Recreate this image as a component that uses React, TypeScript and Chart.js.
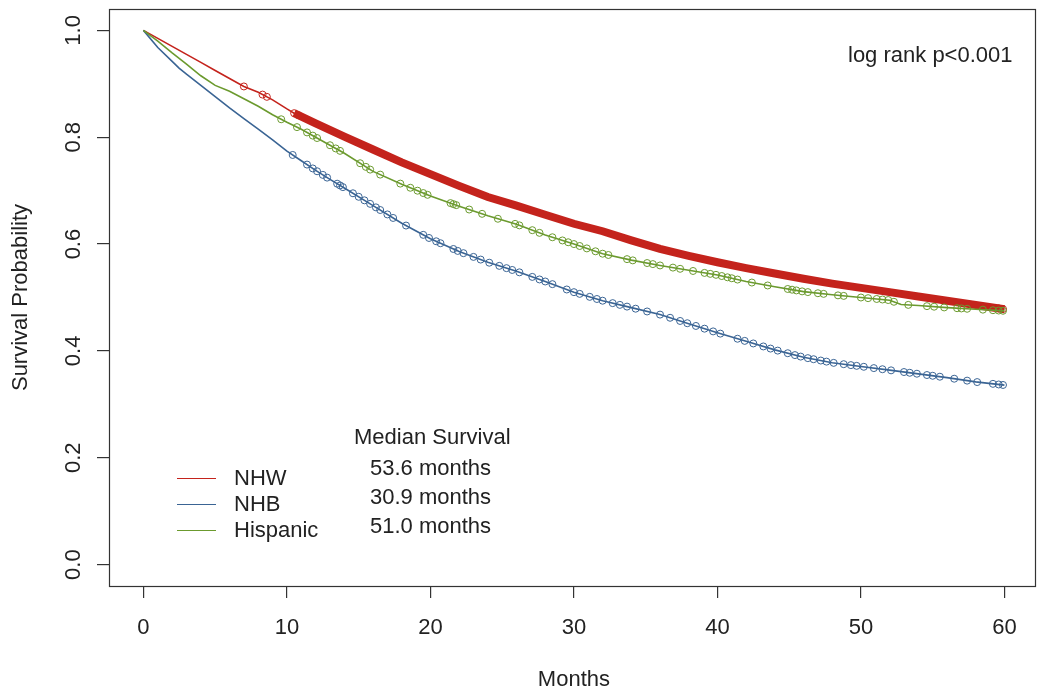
import React, { useEffect, useRef } from "react";
import { Chart, registerables } from "chart.js";
Chart.register(...registerables);

// ---------- data ----------
const xTicks = [0, 10, 20, 30, 40, 50, 60];
const yTicks = [0, 0.2, 0.4, 0.6, 0.8, 1.0];
const groups = ["NHW", "NHB", "Hispanic"];
const medians = ["53.6 months", "30.9 months", "51.0 months"];

const monthsNHW = [0, 1, 2, 3, 4, 5, 6, 7, 8, 9, 10, 10.5, 12, 14, 16, 18, 20, 22, 24, 26, 28, 30, 32, 34, 36, 38, 40, 42, 44, 46, 48, 50, 52, 54, 56, 58, 60];
const survNHW = [1.0, 0.985, 0.97, 0.955, 0.94, 0.925, 0.91, 0.895, 0.884, 0.87, 0.853, 0.845, 0.826, 0.801, 0.777, 0.753, 0.731, 0.709, 0.688, 0.672, 0.655, 0.638, 0.624, 0.607, 0.591, 0.578, 0.566, 0.555, 0.545, 0.535, 0.526, 0.518, 0.51, 0.502, 0.494, 0.486, 0.478];

const monthsNHB = [0, 1, 2, 2.5, 3, 4, 5, 6, 7, 8, 9, 10, 11, 12, 13, 14, 16, 18, 20, 22, 24, 26, 28, 30, 32, 34, 36, 38, 40, 42, 44, 46, 48, 50, 52, 54, 56, 58, 60];
const survNHB = [1.0, 0.968, 0.942, 0.929, 0.918, 0.897, 0.876, 0.855, 0.835, 0.815, 0.795, 0.774, 0.756, 0.738, 0.721, 0.705, 0.672, 0.639, 0.61, 0.586, 0.566, 0.549, 0.53, 0.51, 0.494, 0.481, 0.468, 0.451, 0.434, 0.418, 0.402, 0.388, 0.378, 0.371, 0.364, 0.357, 0.35, 0.342, 0.336];

const monthsHisp = [0, 1, 2, 3, 4, 5, 6, 7, 8, 9, 10, 11, 12, 14, 16, 18, 20, 22, 24, 26, 28, 30, 32, 34, 36, 38, 40, 42, 44, 46, 48, 50, 52, 52.8, 54, 56, 58, 60];
const survHisp = [1.0, 0.98, 0.958, 0.937, 0.915, 0.897, 0.886, 0.872, 0.858, 0.842, 0.828, 0.815, 0.8, 0.77, 0.736, 0.712, 0.69, 0.671, 0.653, 0.637, 0.617, 0.6, 0.582, 0.57, 0.56, 0.551, 0.542, 0.53, 0.52, 0.511, 0.505, 0.5, 0.495, 0.487, 0.485, 0.481, 0.478, 0.475];

// censoring times (months)
const censorNHW = [7.0, 8.3, 8.6, 10.5, 10.8, 59.6, 59.9];
const censorBandStartNHW = 10.5; // dense band of censor marks from here to 60
const censorNHB = [10.4, 11.4, 11.8, 12.1, 12.5, 12.8, 13.5, 13.7, 13.9, 14.6, 15.0, 15.4, 15.8, 16.2, 16.5, 17.0, 17.4, 18.3, 19.5, 19.9, 20.4, 20.7, 21.6, 21.9, 22.3, 23.0, 23.5, 24.1, 24.8, 25.3, 25.7, 26.2, 27.1, 27.6, 28.0, 28.5, 29.5, 30.0, 30.4, 31.1, 31.6, 32.0, 32.7, 33.2, 33.7, 34.3, 35.1, 36.0, 36.7, 37.4, 37.9, 38.5, 39.1, 39.7, 40.2, 41.4, 41.9, 42.5, 43.2, 43.7, 44.2, 44.9, 45.4, 45.8, 46.3, 46.7, 47.2, 47.6, 48.1, 48.8, 49.3, 49.7, 50.2, 50.9, 51.5, 52.1, 53.0, 53.4, 53.9, 54.6, 55.0, 55.5, 56.5, 57.4, 58.1, 59.2, 59.6, 59.9];
const censorHisp = [9.6, 10.7, 11.4, 11.8, 12.1, 13.0, 13.4, 13.7, 15.1, 15.5, 15.8, 16.5, 17.9, 18.6, 19.1, 19.5, 19.8, 21.4, 21.6, 21.8, 22.7, 23.6, 24.7, 25.9, 26.2, 27.1, 27.6, 28.5, 29.2, 29.6, 30.0, 30.4, 30.9, 31.5, 32.0, 32.4, 33.7, 34.1, 35.1, 35.5, 36.0, 36.9, 37.4, 38.3, 39.1, 39.5, 39.9, 40.3, 40.7, 41.0, 41.4, 42.4, 43.5, 44.9, 45.2, 45.5, 45.9, 46.3, 47.0, 47.4, 48.4, 48.8, 50.0, 50.5, 51.1, 51.5, 51.9, 52.3, 53.3, 54.6, 55.1, 55.8, 56.7, 57.0, 57.4, 58.5, 59.2, 59.6, 59.9];

// ---------- styles ----------
const RED = "#c4231c";
const BLUE = "#3a6494";
const GREEN = "#6b9a2e";
const TEXT = "#222";
const FONT = "22px 'Liberation Sans', Arial, sans-serif";

function pts(xs: number[], ys: number[]) {
  return xs.map((x, i) => ({ x, y: ys[i] }));
}
function onCurve(xs: number[], ys: number[], t: number) {
  for (let i = 1; i < xs.length; i++) {
    if (t <= xs[i]) {
      const f = (t - xs[i - 1]) / (xs[i] - xs[i - 1]);
      return ys[i - 1] + f * (ys[i] - ys[i - 1]);
    }
  }
  return ys[ys.length - 1];
}
function marks(times: number[], xs: number[], ys: number[]) {
  return times.map((t) => ({ x: t, y: onCurve(xs, ys, t) }));
}

const textPlugin = {
  id: "rtext",
  afterDraw(chart: any) {
    const { ctx, chartArea, scales } = chart;
    const xs = scales.x;
    const ys = scales.y;
    ctx.save();
    // box
    ctx.strokeStyle = "#333";
    ctx.lineWidth = 1.2;
    ctx.strokeRect(chartArea.left + 0.5, chartArea.top + 0.5, chartArea.right - chartArea.left - 1, chartArea.bottom - chartArea.top);
    ctx.fillStyle = TEXT;
    ctx.font = FONT;
    // x tick labels
    ctx.textAlign = "center";
    ctx.textBaseline = "middle";
    xTicks.forEach((v) => ctx.fillText(String(v), xs.getPixelForValue(v), 628));
    ctx.fillText("Months", (xs.getPixelForValue(0) + xs.getPixelForValue(60)) / 2, 680);
    // y tick labels (rotated)
    yTicks.forEach((v) => {
      ctx.save();
      ctx.translate(74, ys.getPixelForValue(v));
      ctx.rotate(-Math.PI / 2);
      ctx.fillText(v.toFixed(1), 0, 0);
      ctx.restore();
    });
    ctx.save();
    ctx.translate(21, (ys.getPixelForValue(0) + ys.getPixelForValue(1)) / 2);
    ctx.rotate(-Math.PI / 2);
    ctx.fillText("Survival Probability", 0, 0);
    ctx.restore();
    // annotation
    ctx.textAlign = "left";
    ctx.fillText("log rank p<0.001", 848, 56);
    // legend
    const colors = [RED, BLUE, GREEN];
    const legY = [478, 504, 530];
    groups.forEach((g, i) => {
      ctx.strokeStyle = colors[i];
      ctx.lineWidth = 1.2;
      ctx.beginPath();
      ctx.moveTo(177, legY[i] + 0.5);
      ctx.lineTo(216, legY[i] + 0.5);
      ctx.stroke();
      ctx.fillText(g, 234, legY[i] + 1);
    });
    ctx.fillText("Median Survival", 354, 438);
    const medY = [469, 498, 527];
    medians.forEach((m, i) => ctx.fillText(m, 370, medY[i]));
    ctx.restore();
  },
};

export default function App() {
  const ref = useRef<HTMLCanvasElement | null>(null);
  useEffect(() => {
    if (!ref.current) return;
    const bandStart = monthsNHW.indexOf(censorBandStartNHW);
    const lineDs = (label: string, data: any[], color: string, order: number, width = 1.6) => ({
      label,
      data,
      borderColor: color,
      backgroundColor: color,
      borderWidth: width,
      pointRadius: 0,
      fill: false,
      tension: 0,
      order,
    });
    const markDs = (label: string, data: any[], color: string, order: number) => ({
      label,
      data,
      showLine: false,
      borderColor: color,
      backgroundColor: "rgba(0,0,0,0)",
      pointStyle: "circle",
      pointRadius: 3.5,
      pointBorderWidth: 1,
      pointBorderColor: color,
      pointBackgroundColor: "rgba(0,0,0,0)",
      order,
    });
    const chart = new Chart(ref.current, {
      type: "line",
      data: {
        datasets: [
          lineDs("NHW", pts(monthsNHW, survNHW), RED, 6),
          lineDs("NHW censored", pts(monthsNHW.slice(bandStart), survNHW.slice(bandStart)), RED, 5, 8) as any,
          markDs("NHW marks", marks(censorNHW, monthsNHW, survNHW), RED, 5),
          lineDs("NHB", pts(monthsNHB, survNHB), BLUE, 4),
          markDs("NHB marks", marks(censorNHB, monthsNHB, survNHB), BLUE, 3),
          lineDs("Hispanic", pts(monthsHisp, survHisp), GREEN, 2),
          markDs("Hispanic marks", marks(censorHisp, monthsHisp, survHisp), GREEN, 1),
        ] as any,
      },
      options: {
        responsive: false,
        animation: false,
        layout: { autoPadding: false, padding: { top: 9, right: 1, left: 0, bottom: 0 } },
        plugins: { legend: { display: false }, tooltip: { enabled: false } },
        scales: {
          x: {
            type: "linear",
            min: -2.4,
            max: 62.2,
            afterBuildTicks: (s: any) => {
              s.ticks = xTicks.map((v) => ({ value: v }));
            },
            afterFit: (s: any) => {
              s.height = 108;
            },
            ticks: { display: false },
            grid: { drawOnChartArea: false, drawTicks: true, tickLength: 12, color: "#333", lineWidth: 1.2 },
            border: { display: false },
          },
          y: {
            type: "linear",
            min: -0.04,
            max: 1.04,
            afterBuildTicks: (s: any) => {
              s.ticks = yTicks.map((v) => ({ value: v }));
            },
            afterFit: (s: any) => {
              s.width = 109;
            },
            ticks: { display: false },
            grid: { drawOnChartArea: false, drawTicks: true, tickLength: 12, color: "#333", lineWidth: 1.2 },
            border: { display: false },
          },
        },
      } as any,
      plugins: [textPlugin],
    });
    return () => chart.destroy();
  }, []);
  return (
    <div style={{ position: "absolute", left: 0, top: 0, width: 1037, height: 694, background: "#fff" }}>
      <canvas ref={ref} width={1037} height={694} style={{ display: "block" }} />
    </div>
  );
}
